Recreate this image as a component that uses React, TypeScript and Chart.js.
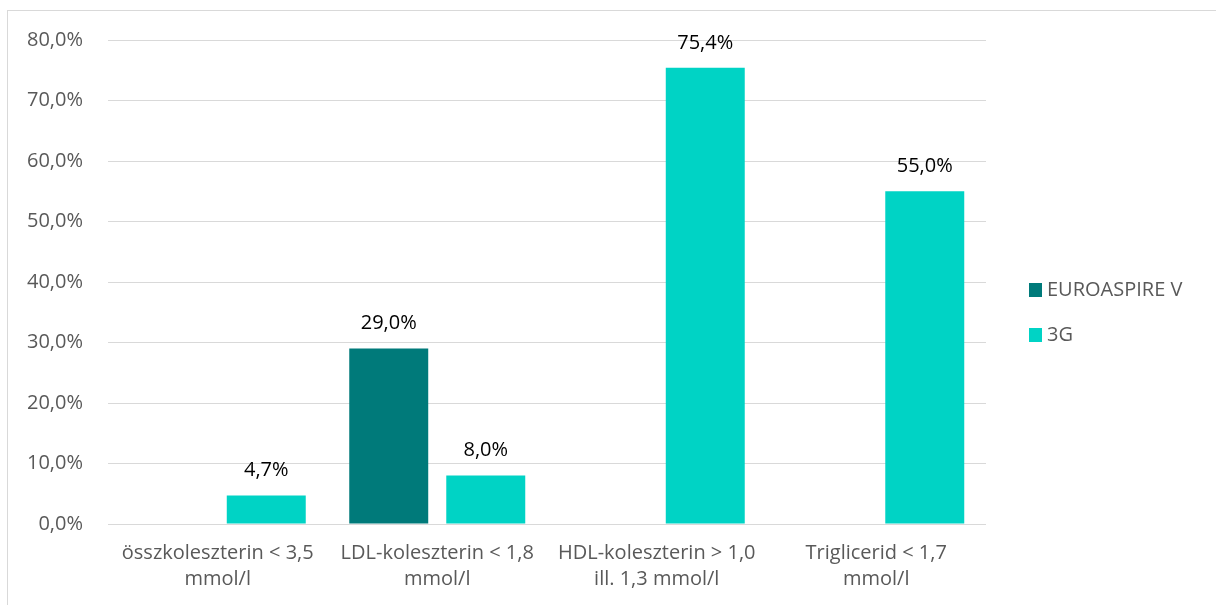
import React, { useEffect, useRef } from "react";
import { Chart, registerables } from "chart.js";

Chart.register(...registerables);

const categories: string[][] = [
  ["összkoleszterin < 3,5", "mmol/l"],
  ["LDL-koleszterin < 1,8", "mmol/l"],
  ["HDL-koleszterin > 1,0", "ill. 1,3 mmol/l"],
  ["Triglicerid < 1,7", "mmol/l"],
];
const euroaspireV: (number | null)[] = [null, 29.0, null, null];
const g3: (number | null)[] = [4.7, 8.0, 75.4, 55.0];
const seriesNames = ["EUROASPIRE V", "3G"];
const seriesColors = ["#007A7A", "#00D3C5"];

const FONT = "'Open Sans', sans-serif";
const FS = 20;
const fmt = (v: number) => v.toFixed(1).replace(".", ",") + "%";

const labelPlugin = {
  id: "valueLabels",
  afterDatasetsDraw(chart: any) {
    const ctx = chart.ctx;
    ctx.save();
    ctx.font = `${FS}px ${FONT}`;
    ctx.fillStyle = "#000000";
    ctx.textAlign = "center";
    ctx.textBaseline = "middle";
    chart.data.datasets.forEach((ds: any, i: number) => {
      const meta = chart.getDatasetMeta(i);
      meta.data.forEach((bar: any, j: number) => {
        const v = ds.data[j];
        if (v === null || v === undefined) return;
        ctx.fillText(fmt(v), bar.x, bar.y - 25);
      });
    });
    ctx.restore();
  },
};

const legendPlugin = {
  id: "customLegend",
  afterDraw(chart: any) {
    const ctx = chart.ctx;
    ctx.save();
    ctx.font = `${FS}px ${FONT}`;
    ctx.textBaseline = "middle";
    ctx.textAlign = "left";
    chart.data.datasets.forEach((ds: any, i: number) => {
      const cy = 290 + i * 45;
      ctx.fillStyle = ds.backgroundColor;
      ctx.fillRect(1029, cy - 7, 13, 14);
      ctx.fillStyle = "#595959";
      ctx.fillText(ds.label, 1047, cy);
    });
    ctx.restore();
  },
};

const borderPlugin = {
  id: "outerBorder",
  beforeDraw(chart: any) {
    const ctx = chart.ctx;
    ctx.save();
    ctx.fillStyle = "#ffffff";
    ctx.fillRect(0, 0, chart.width, chart.height);
    ctx.strokeStyle = "#d9d9d9";
    ctx.lineWidth = 1;
    ctx.strokeRect(7.5, 10.5, 1220, 600);
    ctx.restore();
  },
};

export default function App() {
  const ref = useRef<HTMLCanvasElement>(null);
  useEffect(() => {
    if (!ref.current) return;
    const chart = new Chart(ref.current, {
      type: "bar",
      data: {
        labels: categories,
        datasets: [
          { label: seriesNames[0], data: euroaspireV, backgroundColor: seriesColors[0] },
          { label: seriesNames[1], data: g3, backgroundColor: seriesColors[1] },
        ],
      },
      options: {
        animation: false,
        responsive: false,
        maintainAspectRatio: false,
        layout: { padding: { top: 40, right: 230, bottom: 0, left: 0 } },
        datasets: { bar: { categoryPercentage: 0.884, barPercentage: 0.814 } },
        plugins: { legend: { display: false }, tooltip: { enabled: false } },
        scales: {
          x: {
            grid: { display: false, drawTicks: false },
            border: { display: false },
            ticks: {
              color: "#595959",
              font: { family: FONT, size: FS, lineHeight: 1.32 },
              padding: 16,
              maxRotation: 0,
              autoSkip: false,
            },
            afterFit(scale: any) {
              scale.height = 81;
            },
          },
          y: {
            min: 0,
            max: 80,
            grid: { color: "#d9d9d9", drawTicks: false },
            border: { display: false },
            ticks: {
              stepSize: 10,
              color: "#595959",
              font: { family: FONT, size: FS },
              padding: 25,
              callback: (v: any) => fmt(Number(v)),
            },
            afterFit(scale: any) {
              scale.width = 108;
            },
          },
        },
      },
      plugins: [borderPlugin, labelPlugin, legendPlugin],
    } as any);
    return () => chart.destroy();
  }, []);
  return (
    <div style={{ position: "fixed", left: 0, top: 0, width: 1216, height: 605 }}>
      <canvas ref={ref} width={1216} height={605} style={{ width: 1216, height: 605 }} />
    </div>
  );
}
